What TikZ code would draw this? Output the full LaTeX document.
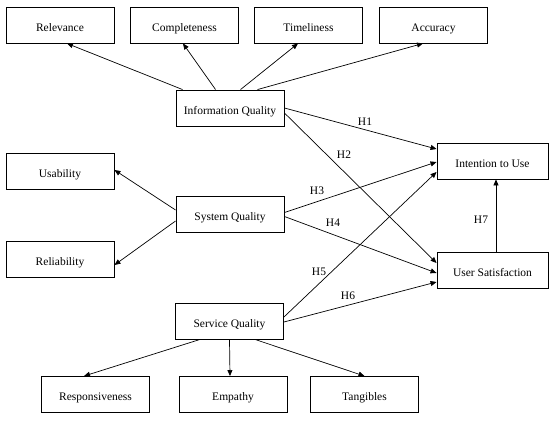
\documentclass[tikz,border=0pt]{standalone}
\usepackage{fontspec}
\setmainfont{Liberation Serif}
\usetikzlibrary{arrows.meta}
\begin{document}
\begin{tikzpicture}[x=1pt,y=-1pt,
  box/.style={draw,line width=0.9pt,rectangle,minimum width=108pt,minimum height=36pt,inner sep=0pt,text height=13pt,text depth=0pt,font=\fontsize{11.5}{13}\selectfont},
  wbox/.style={box,minimum width=111pt},
  arr/.style={line width=0.7pt,-{Triangle[length=6pt,width=5pt]}},
  lab/.style={font=\fontsize{11.5}{13}\selectfont,inner sep=0pt}]
\useasboundingbox (0,0) rectangle (550,422);
% nodes
\node[box] (rel) at (60,25) {Relevance};
\node[box] (com) at (184.5,25) {Completeness};
\node[box] (tim) at (308.5,25) {Timeliness};
\node[box] (acc) at (433.5,25) {Accuracy};
\node[box] (iq) at (230,108) {Information Quality};
\node[box] (usa) at (60,171) {Usability};
\node[box] (reli) at (60,259) {Reliability};
\node[box] (sq) at (230,214.5) {System Quality};
\node[wbox] (itu) at (492.5,161) {Intention to Use};
\node[wbox] (us) at (492.5,270.5) {User Satisfaction};
\node[box] (svq) at (229.5,321) {Service Quality};
\node[box] (res) at (95.5,394.5) {Responsiveness};
\node[box] (emp) at (233,394.5) {Empathy};
\node[box] (tan) at (364.5,394.5) {Tangibles};
% information quality dimensions
\draw[arr] ([xshift=7pt]iq.north west) -- ([xshift=7pt]rel.south);
\draw[arr] ([xshift=40pt]iq.north west) -- ([xshift=-1.5pt]com.south);
\draw[arr] ([xshift=65pt]iq.north west) -- ([xshift=-10.5pt]tim.south);
\draw[arr] ([xshift=82pt]iq.north west) -- ([xshift=-10.5pt]acc.south);
% system quality dimensions
\draw[arr] ([yshift=4.5pt]sq.west) -- ([yshift=1pt]usa.east);
\draw[arr] ([yshift=-6.5pt]sq.west) -- ([yshift=-6pt]reli.east);
% service quality dimensions
\draw[arr] ([xshift=-29.5pt]svq.south) -- ([xshift=-11.5pt]res.north);
\draw[arr] (svq.south) -- ([xshift=-3pt]emp.north);
\draw[arr] ([xshift=25.5pt]svq.south) -- (tan.north);
% hypotheses
\draw[arr] (iq.east) -- ([yshift=12pt]itu.west);
\draw[arr] ([yshift=-5pt]iq.east) -- ([yshift=7.5pt]us.west);
\draw[arr] ([yshift=2pt]sq.east) -- ([yshift=-1pt]itu.west);
\draw[arr] ([yshift=-2pt]sq.east) -- ([yshift=-2.5pt]us.west);
\draw[arr] ([yshift=4pt]svq.east) -- ([yshift=-11pt]itu.west);
\draw[arr] ([yshift=-1pt]svq.east) -- ([yshift=-11.5pt]us.west);
\draw[arr] ([xshift=3.5pt]us.north) -- ([xshift=3.5pt]itu.south);
% labels
\node[lab] (h1) at (365,122) {H1};
\node[lab] (h2) at (344,155) {H2};
\node[lab] (h3) at (317,191) {H3};
\node[lab] (h4) at (333,223) {H4};
\node[lab] (h5) at (319,272) {H5};
\node[lab] (h6) at (348,296) {H6};
\node[lab] (h7) at (481,220) {H7};
\end{tikzpicture}
\end{document}
